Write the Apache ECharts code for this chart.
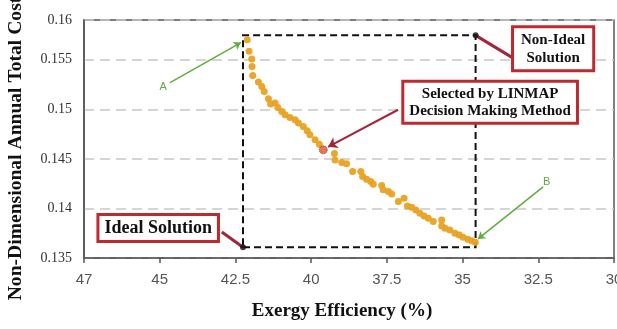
<!DOCTYPE html>
<html><head><meta charset="utf-8">
<script src="https://cdn.jsdelivr.net/npm/echarts@6/dist/echarts.min.js"></script>
<style>html,body{margin:0;padding:0;background:#fff}#c{width:617px;height:329px}</style>
</head><body><div id="c"></div>
<script>
// Pareto front: exergy efficiency (%) vs non-dimensional annual total cost
const efficiency = [42.11,42.05,41.96,41.95,41.93,41.74,41.63,41.55,41.41,41.34,41.19,41.10,40.97,40.86,40.70,40.53,40.42,40.26,40.13,40.04,39.87,39.73,39.23,39.21,38.99,38.83,38.63,38.36,38.30,38.17,38.03,37.95,37.67,37.62,37.45,37.34,37.12,36.93,36.82,36.68,36.54,36.41,36.27,36.13,35.97,35.69,35.69,35.58,35.42,35.25,35.11,34.98,34.83,34.70,34.58];
const totalCost = [0.15702,0.15584,0.15507,0.15432,0.15341,0.15275,0.15230,0.15180,0.15106,0.15053,0.15063,0.15018,0.14978,0.14944,0.14917,0.14894,0.14861,0.14826,0.14783,0.14742,0.14692,0.14648,0.14554,0.14487,0.14463,0.14450,0.14372,0.14372,0.14321,0.14295,0.14271,0.14244,0.14230,0.14187,0.14170,0.14146,0.14069,0.14103,0.14025,0.14012,0.13985,0.13952,0.13924,0.13901,0.13867,0.13884,0.13823,0.13800,0.13783,0.13750,0.13732,0.13709,0.13689,0.13675,0.13660];
const selectedPoint = [39.60, 0.14591];
const idealPoint = [42.25, 0.13608];
const nonIdealPoint = [34.57, 0.15745];
// annotation anchors (data coordinates)
const labelA = [44.89, 0.15227];
const arrowA = [[44.66, 0.15268], [42.32, 0.15672]];
const labelB = [32.22, 0.14271];
const arrowB = [[32.34, 0.14217], [34.49, 0.13692]];
const nonIdealBox = [32.01, 0.15609];
const nonIdealLink = [[33.37, 0.15523], nonIdealPoint];
const selectedBox = [34.09, 0.15071];
const selectedArrow = [[37.13, 0.14995], [39.44, 0.14621]];
const idealBox = [45.05, 0.13803];
const idealLink = [[42.95, 0.13763], idealPoint];

const xMin = 30, xMax = 47.5, xStep = 2.5;
const yMin = 0.135, yMax = 0.159, yStep = 0.005;

const paretoData = efficiency.map((e, i) => [e, totalCost[i]]);
const serif = 'Liberation Serif';
const boxRed = '#C0282F';
const linkRed = '#A3253A';
const green = '#5DAE3C';

function boxLabel(fs, lh, pad) {
  return {
    show: true, position: 'inside', color: '#111', fontFamily: serif, fontWeight: 'bold',
    fontSize: fs, lineHeight: lh, align: 'center', backgroundColor: '#fff',
    borderColor: boxRed, borderWidth: 3, padding: pad
  };
}

const chart = echarts.init(document.getElementById('c'), null, {renderer: 'canvas'});
chart.setOption({
  animation: false,
  grid: {left: 84, right: 3, top: 20, bottom: 71, outerBoundsMode: 'none', containLabel: false,
    show: true, borderColor: '#555', borderWidth: 1.5, backgroundColor: 'transparent'},
  xAxis: {
    type: 'value', min: xMin, max: xMax, interval: xStep, inverse: true,
    name: 'Exergy Efficiency (%)', nameLocation: 'middle', nameGap: 44,
    nameTextStyle: {fontFamily: serif, fontWeight: 'bold', fontSize: 19, color: '#111', padding: [0, 14, 0, 0]},
    axisLine: {show: true, lineStyle: {color: '#555', width: 1.5}},
    axisTick: {show: true, length: 5, lineStyle: {color: '#555', width: 1.5}},
    axisLabel: {margin: 14, fontFamily: 'Liberation Sans', fontSize: 15, color: '#555', showMaxLabel: true, showMinLabel: true,
      formatter: v => (v === 47.5 ? '47' : String(v))},
    splitLine: {show: false}
  },
  yAxis: {
    type: 'value', min: yMin, max: yMax, interval: yStep,
    name: 'Non-Dimensional Annual Total Cost', nameLocation: 'middle', nameGap: 58,
    nameTextStyle: {fontFamily: serif, fontWeight: 'bold', fontSize: 19.6, color: '#111', padding: [0, 19, 0, 0]},
    axisLine: {show: true, lineStyle: {color: '#555', width: 1.5}},
    axisTick: {show: false},
    axisLabel: {margin: 12, fontFamily: serif, fontSize: 14, color: '#333', showMaxLabel: true,
      formatter: v => (v > 0.1585 ? '0.16' : String(parseFloat(v.toFixed(3))))},
    splitLine: {show: true, lineStyle: {color: '#C8C8C8', width: 1.5, type: [10, 6]}}
  },
  series: [
    {
      type: 'scatter', data: paretoData, symbolSize: 7, z: 3,
      itemStyle: {color: '#E9A122', opacity: 0.95},
      markArea: {
        silent: true,
        itemStyle: {color: 'rgba(0,0,0,0)', borderColor: '#111', borderWidth: 2, borderType: [7, 4]},
        data: [[{coord: idealPoint}, {coord: nonIdealPoint}]]
      }
    },
    {
      type: 'scatter', data: [idealPoint, nonIdealPoint], symbolSize: 6, z: 5,
      itemStyle: {color: '#111'}
    },
    {
      type: 'scatter', data: [selectedPoint], symbolSize: 8, z: 6,
      itemStyle: {color: '#E2561E', borderColor: '#5a2a3a', borderWidth: 1, borderType: 'dotted'},
      markLine: {
        silent: true, animation: false, symbolSize: 8,
        label: {show: false},
        data: [
          [{coord: arrowA[0], symbol: 'none', lineStyle: {color: green, width: 1.5, type: 'solid'}}, {coord: arrowA[1], symbol: 'arrow', symbolSize: 7}],
          [{coord: arrowB[0], symbol: 'none', lineStyle: {color: green, width: 1.5, type: 'solid'}}, {coord: arrowB[1], symbol: 'arrow', symbolSize: 7}],
          [{coord: selectedArrow[0], symbol: 'none', lineStyle: {color: linkRed, width: 2, type: 'solid'}}, {coord: selectedArrow[1], symbol: 'arrow', symbolSize: 9}],
          [{coord: nonIdealLink[0], symbol: 'none', lineStyle: {color: linkRed, width: 3, type: 'solid'}}, {coord: nonIdealLink[1], symbol: 'none'}],
          [{coord: idealLink[0], symbol: 'none', lineStyle: {color: linkRed, width: 3, type: 'solid'}}, {coord: idealLink[1], symbol: 'none'}]
        ]
      },
      markPoint: {
        silent: true, symbol: 'circle', symbolSize: 1, itemStyle: {color: 'rgba(0,0,0,0)'},
        data: [
          {coord: labelA, label: {show: true, position: 'inside', formatter: 'A', color: green, fontFamily: 'Liberation Sans', fontSize: 11}},
          {coord: labelB, label: {show: true, position: 'inside', formatter: 'B', color: green, fontFamily: 'Liberation Sans', fontSize: 11}},
          {coord: nonIdealBox, label: Object.assign(boxLabel(15, 18, [3, 7, 2, 7]), {formatter: 'Non-Ideal\nSolution'})},
          {coord: selectedBox, label: Object.assign(boxLabel(15, 17, [3, 5, 2, 5]), {formatter: 'Selected by LINMAP\nDecision Making Method'})},
          {coord: idealBox, label: Object.assign(boxLabel(18, 21, [2, 5, 1, 5]), {formatter: 'Ideal Solution'})}
        ]
      }
    }
  ]
});
</script></body></html>
